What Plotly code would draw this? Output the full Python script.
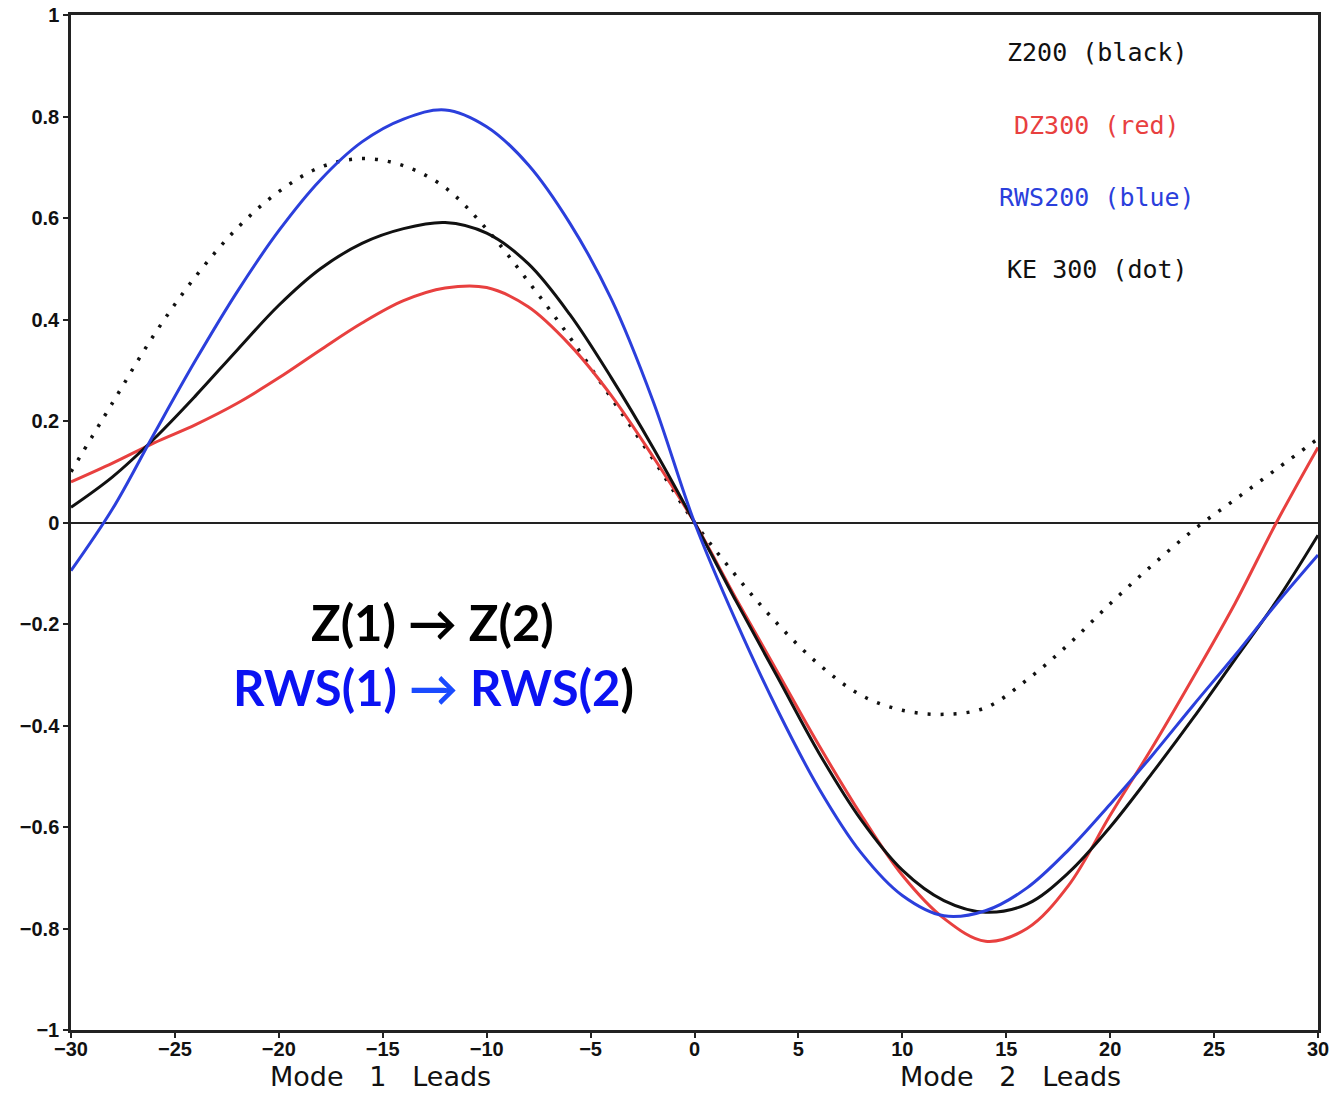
import plotly.graph_objects as go

# Lag (days): negative = Mode 1 leads, positive = Mode 2 leads
lags = list(range(-30, 31, 2))

z200 = [0.03, 0.09, 0.165, 0.25, 0.34, 0.428, 0.50, 0.55, 0.579, 0.591, 0.57,
        0.51, 0.41, 0.285, 0.148, 0.0, -0.155, -0.305, -0.455, -0.585, -0.685,
        -0.745, -0.768, -0.752, -0.69, -0.60, -0.495, -0.385, -0.27, -0.155, -0.025]

dz300 = [0.08, 0.117, 0.157, 0.193, 0.235, 0.285, 0.34, 0.393, 0.437, 0.462, 0.463,
         0.425, 0.35, 0.25, 0.13, 0.0, -0.15, -0.295, -0.44, -0.575, -0.695,
         -0.78, -0.825, -0.80, -0.715, -0.577, -0.445, -0.305, -0.16, 0.0, 0.148]

rws200 = [-0.095, 0.027, 0.175, 0.32, 0.455, 0.575, 0.675, 0.75, 0.795, 0.813, 0.78,
          0.705, 0.59, 0.44, 0.24, 0.0, -0.195, -0.37, -0.525, -0.65, -0.735,
          -0.775, -0.765, -0.72, -0.645, -0.555, -0.46, -0.36, -0.262, -0.16, -0.064]

ke300 = [0.10, 0.236, 0.37, 0.485, 0.58, 0.652, 0.70, 0.717, 0.703, 0.66, 0.578,
         0.475, 0.365, 0.245, 0.125, 0.0, -0.105, -0.20, -0.28, -0.34, -0.37,
         -0.378, -0.365, -0.31, -0.24, -0.16, -0.085, -0.015, 0.045, 0.105, 0.165]

legend_labels = ["Z200 (black)", "DZ300 (red)", "RWS200 (blue)", "KE 300 (dot)"]
legend_colors = ["#111111", "#e8403f", "#2b3fdc", "#111111"]

x_ticks = list(range(-30, 31, 5))
y_ticks = [1, 0.8, 0.6, 0.4, 0.2, 0, -0.2, -0.4, -0.6, -0.8, -1]

RED = "#e8403f"
BLUE = "#2b3fdc"

fig = go.Figure()

fig.add_trace(go.Scatter(x=lags, y=ke300, mode="lines", line_shape="spline",
                         line=dict(color="#111111", width=3.5, dash="3px,10px")))
fig.add_trace(go.Scatter(x=lags, y=dz300, mode="lines", line_shape="spline",
                         line=dict(color=RED, width=3)))
fig.add_trace(go.Scatter(x=lags, y=z200, mode="lines", line_shape="spline",
                         line=dict(color="#111111", width=3)))
fig.add_trace(go.Scatter(x=lags, y=rws200, mode="lines", line_shape="spline",
                         line=dict(color=BLUE, width=3)))

tick_font = dict(family="Liberation Sans", size=20, color="#111111", weight="bold")

fig.update_xaxes(range=[-30, 30], tickvals=x_ticks,
                 ticktext=[str(v).replace("-", "\u2212") for v in x_ticks],
                 showgrid=False, zeroline=False, showline=True, mirror=True,
                 linecolor="#222222", linewidth=2.5, ticks="outside", ticklen=5,
                 tickwidth=2, tickcolor="#222222", tickfont=tick_font,
                 ticklabelstandoff=-6, automargin=False)
fig.update_yaxes(range=[-1, 1], tickvals=y_ticks,
                 ticktext=[("%g" % v).replace("-", "\u2212") for v in y_ticks],
                 showgrid=False, zeroline=True, zerolinecolor="#222222", zerolinewidth=2,
                 showline=True, mirror=True,
                 linecolor="#222222", linewidth=2.5, ticks="outside", ticklen=5,
                 tickwidth=2, tickcolor="#222222", tickfont=tick_font,
                 automargin=False)

# Series key, top right
legend_y = [0.926, 0.782, 0.640, 0.4985]
for label, color, yy in zip(legend_labels, legend_colors, legend_y):
    fig.add_annotation(x=19.37, y=yy, xref="x", yref="y", text=label, showarrow=False,
                       font=dict(family="DejaVu Sans Mono", size=25, color=color))

# Propagation note
fig.add_annotation(x=-12.63, y=-0.197, xref="x", yref="y", showarrow=False,
                   text="Z(1) \u2192 Z(2)",
                   font=dict(family="Lato", size=49, color="#000000", weight="bold"))
fig.add_annotation(x=-12.58, y=-0.325, xref="x", yref="y", showarrow=False,
                   text=("<span style='color:#0b12f2'>RWS(1) </span>"
                         "<span style='color:#1a4bff'>\u2192</span>"
                         "<span style='color:#0b12f2'> RWS(2</span>"
                         "<span style='color:#000000'>)</span>"),
                   font=dict(family="Lato", size=49, color="#0b12f2", weight="bold"))

# Captions for the two halves of the lag axis
for xc, txt in [(-15.13, "Mode   1   Leads"), (15.19, "Mode   2   Leads")]:
    fig.add_annotation(x=xc, y=-0.0463, xref="x", yref="paper", yanchor="middle",
                       xanchor="center", text=txt, showarrow=False,
                       font=dict(family="DejaVu Sans", size=27, color="#111111"))

fig.update_layout(width=1331, height=1095, showlegend=False,
                  paper_bgcolor="white", plot_bgcolor="white",
                  margin=dict(l=71, r=13, t=15, b=65))

fig.write_html("out.html")
